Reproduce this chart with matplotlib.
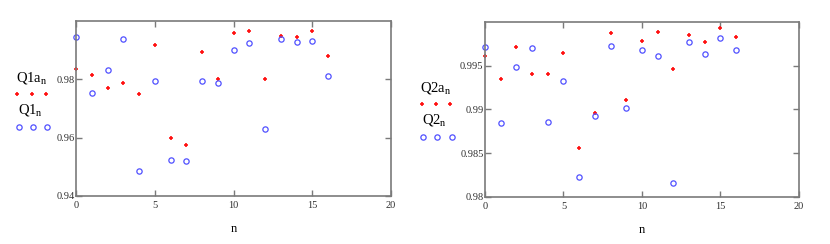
"""Two Mathcad-style scatter panels: Q1a/Q1 and Q2a/Q2 against n."""

import matplotlib
matplotlib.use("Agg")
import matplotlib.pyplot as plt
from matplotlib.lines import Line2D

plt.rcParams["font.family"] = ["Liberation Serif", "DejaVu Serif"]
plt.rcParams["mathtext.fontset"] = "custom"
plt.rcParams["mathtext.rm"] = "Liberation Serif"
plt.rcParams["mathtext.it"] = "Liberation Serif"

n = list(range(17))

Q1a = [0.9836, 0.9815, 0.9770, 0.9789, 0.9751, 0.9917, 0.9599, 0.9574, 0.9893,
       0.9801, 0.9960, 0.9964, 0.9800, 0.9949, 0.9944, 0.9964, 0.9879]
Q1 = [0.9944, 0.9753, 0.9831, 0.9937, 0.9487, 0.9795, 0.9523, 0.9520, 0.9795,
      0.9789, 0.9900, 0.9924, 0.9629, 0.9938, 0.9929, 0.9931, 0.9811]

Q2a = [0.9961, 0.9935, 0.9971, 0.9941, 0.9940, 0.9965, 0.9856, 0.9896, 0.9987,
       0.9911, 0.9978, 0.9989, 0.9946, 0.9985, 0.9977, 0.9993, 0.9983]
Q2 = [0.9971, 0.9884, 0.9949, 0.9970, 0.9886, 0.9932, 0.9823, 0.9892, 0.9973,
      0.9902, 0.9968, 0.9961, 0.9816, 0.9977, 0.9963, 0.9982, 0.9968]

x_ticks = [0, 5, 10, 15, 20]
y1_ticks = [0.94, 0.96, 0.98]
y1_labels = ["0.94", "0.96", "0.98"]
y2_ticks = [0.98, 0.985, 0.99, 0.995]
y2_labels = ["0.98", "0.985", "0.99", "0.995"]

RED = "#ff1010"
BLUE = "#5050ff"
FRAME = "#7a7a7a"
PLUS = dict(linestyle="none", marker="+", color=RED, markersize=3.2, markeredgewidth=1.2)
CIRC = dict(linestyle="none", marker="o", markerfacecolor="none", markeredgecolor=BLUE,
            markersize=3.8, markeredgewidth=0.9)


def style_axes(ax, ylim, yticks, ylabels):
    ax.set_xlim(0, 20)
    ax.set_ylim(*ylim)
    ax.set_xticks(x_ticks)
    ax.set_xticklabels([str(t) for t in x_ticks])
    ax.set_yticks(yticks)
    ax.set_yticklabels(ylabels)
    ax.tick_params(direction="in", length=4, width=1, color=FRAME,
                   top=True, right=True, labelsize=7.5, labelcolor="#303030")
    ax.tick_params(axis="y", pad=1)
    ax.tick_params(axis="x", pad=4)
    for s in ax.spines.values():
        s.set_color(FRAME)
        s.set_linewidth(1.2)
    ax.set_xlabel("n", fontsize=9, labelpad=9)


def plot_pair(ax, qa, q):
    ax.plot(n, qa, clip_on=False, **PLUS)
    ax.plot(n, q, clip_on=False, **CIRC)


def side_legend(fig, x, y_top, label_a, label_b):
    # Mathcad puts each trace name above a row of three sample markers
    fig.text(x, y_top, label_a, fontsize=10.5, ha="left", va="center")
    fig.add_artist(Line2D([x + 0.002, x + 0.019, x + 0.036], [y_top - 0.066] * 3,
                          transform=fig.transFigure, **PLUS))
    fig.text(x + 0.003, y_top - 0.131, label_b, fontsize=10.5, ha="left", va="center")
    fig.add_artist(Line2D([x + 0.004, x + 0.021, x + 0.038], [y_top - 0.20] * 3,
                          transform=fig.transFigure, **CIRC))


fig = plt.figure(figsize=(8.3, 2.44), dpi=100)

ax1 = fig.add_axes([0.0916, 0.197, 0.3795, 0.717])
plot_pair(ax1, Q1a, Q1)
style_axes(ax1, (0.94, 1.0), y1_ticks, y1_labels)

ax2 = fig.add_axes([0.5843, 0.193, 0.3783, 0.717])
plot_pair(ax2, Q2a, Q2)
style_axes(ax2, (0.98, 1.0), y2_ticks, y2_labels)

side_legend(fig, 0.019, 1 - 78 / 244, r"$\mathrm{Q1a_n}$", r"$\mathrm{Q1_n}$")
side_legend(fig, 0.506, 1 - 88 / 244, r"$\mathrm{Q2a_n}$", r"$\mathrm{Q2_n}$")

fig.savefig("out.png", dpi=100)
plt.close(fig)
